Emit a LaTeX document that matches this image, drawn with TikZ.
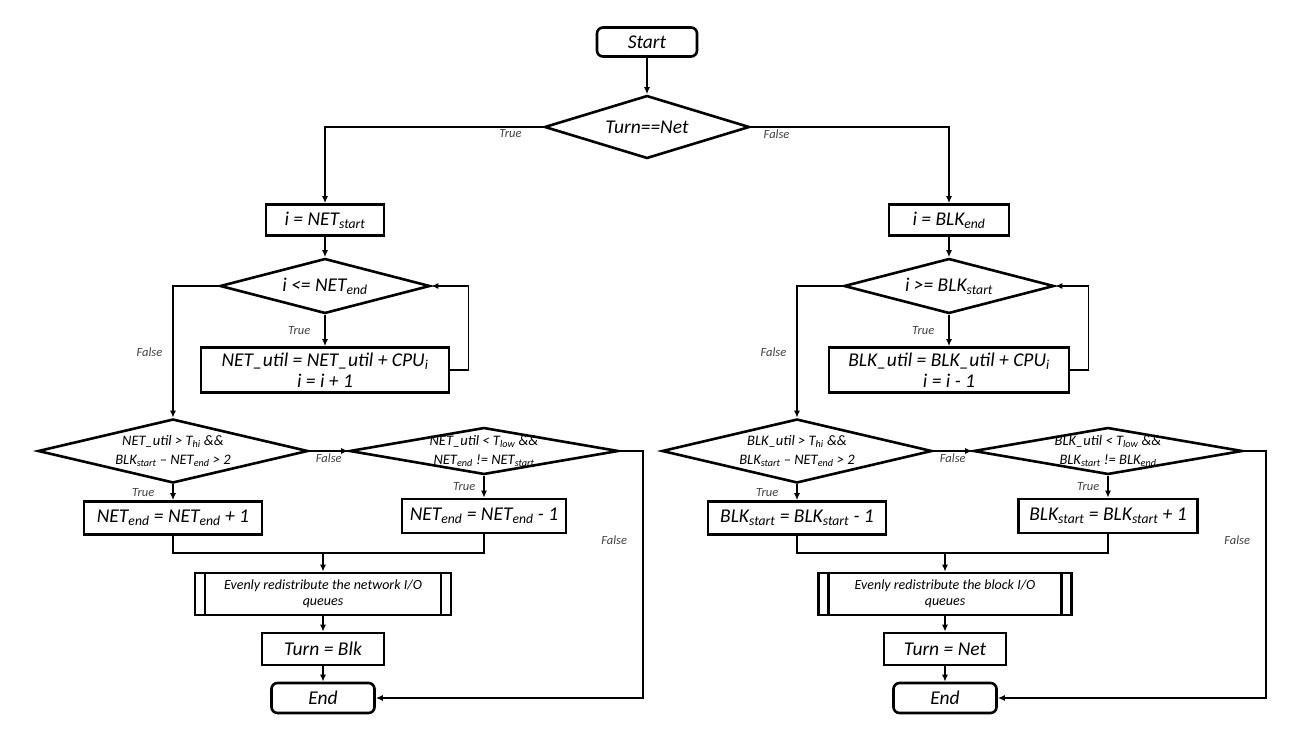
\documentclass[tikz,border=0pt]{standalone}
\usepackage{fontspec}
\setmainfont{Carlito}
\usetikzlibrary{shapes,arrows.meta,positioning,calc}
\newcommand{\sbs}[1]{\textsubscript{#1}}

\begin{document}
\begin{tikzpicture}[
    x=1pt, y=-1pt,
    font=\itshape\fontsize{19.5}{21}\selectfont,
    >={Latex[length=7pt,width=6pt]},
    term/.style={draw, line width=2.6pt, rectangle, rounded corners=6pt, minimum width=103pt, minimum height=30pt, inner sep=0pt},
    proc/.style={draw, line width=2.6pt, rectangle, minimum height=32pt, inner sep=0pt, align=center},
    predef/.style={proc, font=\itshape\fontsize{14}{16.5}\selectfont, path picture={
        \draw[line width=2.4pt] ([xshift=10pt]path picture bounding box.north west) -- ([xshift=10pt]path picture bounding box.south west);
        \draw[line width=2.4pt] ([xshift=-10pt]path picture bounding box.north east) -- ([xshift=-10pt]path picture bounding box.south east);}},
    decision/.style={draw, line width=2.6pt, diamond, inner sep=0pt},
    cond/.style={font=\itshape\fontsize{14.5}{19}\selectfont, align=center},
    flow/.style={line width=1.5pt},
    lbl/.style={font=\itshape\fontsize{12.5}{14}\selectfont, text=black!75, inner sep=2pt}
]
    \useasboundingbox (0,0) rectangle (1308,738);

    \node[term, minimum width=100pt, minimum height=29pt] (start) at (647,42) {Start};
    \node[decision, minimum width=205pt, minimum height=63pt, label={center:Turn==Net}] (turn) at (647,127) {};

    % network side
    \node[proc, minimum width=118pt, minimum height=31pt] (netinit) at (325,220) {i = NET\sbs{start}};
    \node[decision, minimum width=210pt, minimum height=55pt, label={center:i <= NET\sbs{end}}] (netloop) at (325,286) {};
    \node[proc, minimum width=248pt, minimum height=45pt] (netsum) at (325,370) {NET\_util = NET\_util + CPU\sbs{i}\\i = i + 1};
    \node[decision, minimum width=270pt, minimum height=64pt, label={[cond]center:NET\_util > T\sbs{hi} \&\&\\BLK\sbs{start} – NET\sbs{end} > 2}] (nethi) at (173,451) {};
    \node[decision, minimum width=269pt, minimum height=47pt, label={[cond]center:NET\_util < T\sbs{low} \&\&\\NET\sbs{end} != NET\sbs{start}}] (netlo) at (484,451) {};
    \node[proc, minimum width=178pt, minimum height=33pt] (netinc) at (173,518) {NET\sbs{end} = NET\sbs{end} + 1};
    \node[proc, minimum width=164pt, minimum height=34pt] (netdec) at (484,516) {NET\sbs{end} = NET\sbs{end} - 1};
    \coordinate (netjoin) at (323,553);
    \node[predef, minimum width=256pt, minimum height=42pt] (netredis) at (323,594) {Evenly redistribute the network I/O\\queues};
    \node[proc, minimum width=122pt, minimum height=32pt] (netturn) at (323,649) {Turn = Blk};
    \node[term] (netend) at (323,698) {End};

    % block side
    \node[proc, minimum width=120pt, minimum height=31pt] (blkinit) at (949,220) {i = BLK\sbs{end}};
    \node[decision, minimum width=210pt, minimum height=55pt, label={center:i >= BLK\sbs{start}}] (blkloop) at (949,286) {};
    \node[proc, minimum width=240pt, minimum height=45pt] (blksum) at (949,370) {BLK\_util = BLK\_util + CPU\sbs{i}\\i = i - 1};
    \node[decision, minimum width=270pt, minimum height=64pt, label={[cond]center:BLK\_util > T\sbs{hi} \&\&\\BLK\sbs{start} – NET\sbs{end} > 2}] (blkhi) at (797,451) {};
    \node[decision, minimum width=269pt, minimum height=47pt, label={[cond]center:BLK\_util < T\sbs{low} \&\&\\BLK\sbs{start} != BLK\sbs{end}}] (blklo) at (1108,451) {};
    \node[proc, minimum width=178pt, minimum height=33pt] (blkdec) at (797,518) {BLK\sbs{start} = BLK\sbs{start} - 1};
    \node[proc, minimum width=179pt, minimum height=34pt] (blkinc) at (1108,516) {BLK\sbs{start} = BLK\sbs{start} + 1};
    \coordinate (blkjoin) at (945,553);
    \node[predef, minimum width=253pt, minimum height=42pt] (blkredis) at (945,594) {Evenly redistribute the block I/O\\queues};
    \node[proc, minimum width=122pt, minimum height=32pt] (blkturn) at (945,649) {Turn = Net};
    \node[term] (blkend) at (945,698) {End};

    \draw[flow, ->] (start) -- (turn);
    \draw[flow, ->] (turn.west) -| node[lbl, below, pos=0.075] {True} (netinit.north);
    \draw[flow, ->] (turn.east) -| node[lbl, below, pos=0.065] {False} (blkinit.north);

    \draw[flow, ->] (netinit) -- (netloop);
    \draw[flow, ->] (netloop) -- node[lbl, left=12pt] {True} (netsum);
    \draw[flow, ->] (netsum.east) -- ++(18,0) |- (netloop.east);
    \draw[flow, ->] (netloop.west) -| node[lbl, left=8pt, pos=0.75] {False} (nethi.north);
    \draw[flow, ->] (nethi.east) -- node[lbl, below] {False} (netlo.west);
    \draw[flow, ->] (nethi) -- node[lbl, left=16pt] {True} (netinc);
    \draw[flow, ->] (netlo) -- node[lbl, left=6pt] {True} (netdec);
    \draw[flow, ->] (netlo.east) -- ++(23,0) |- node[lbl, left=13pt, pos=0.18] {False} (netend.east);
    \draw[flow] (netinc.south) |- (netjoin) -| (netdec.south);
    \draw[flow, ->] (netjoin) -- (netredis);
    \draw[flow, ->] (netredis) -- (netturn);
    \draw[flow, ->] (netturn) -- (netend);

    \draw[flow, ->] (blkinit) -- (blkloop);
    \draw[flow, ->] (blkloop) -- node[lbl, left=12pt] {True} (blksum);
    \draw[flow, ->] (blksum.east) -- ++(18,0) |- (blkloop.east);
    \draw[flow, ->] (blkloop.west) -| node[lbl, left=8pt, pos=0.75] {False} (blkhi.north);
    \draw[flow, ->] (blkhi.east) -- node[lbl, below] {False} (blklo.west);
    \draw[flow, ->] (blkhi) -- node[lbl, left=16pt] {True} (blkdec);
    \draw[flow, ->] (blklo) -- node[lbl, left=6pt] {True} (blkinc);
    \draw[flow, ->] (blklo.east) -- ++(22,0) |- node[lbl, left=13pt, pos=0.18] {False} (blkend.east);
    \draw[flow] (blkdec.south) |- (blkjoin) -| (blkinc.south);
    \draw[flow, ->] (blkjoin) -- (blkredis);
    \draw[flow, ->] (blkredis) -- (blkturn);
    \draw[flow, ->] (blkturn) -- (blkend);
\end{tikzpicture}
\end{document}
